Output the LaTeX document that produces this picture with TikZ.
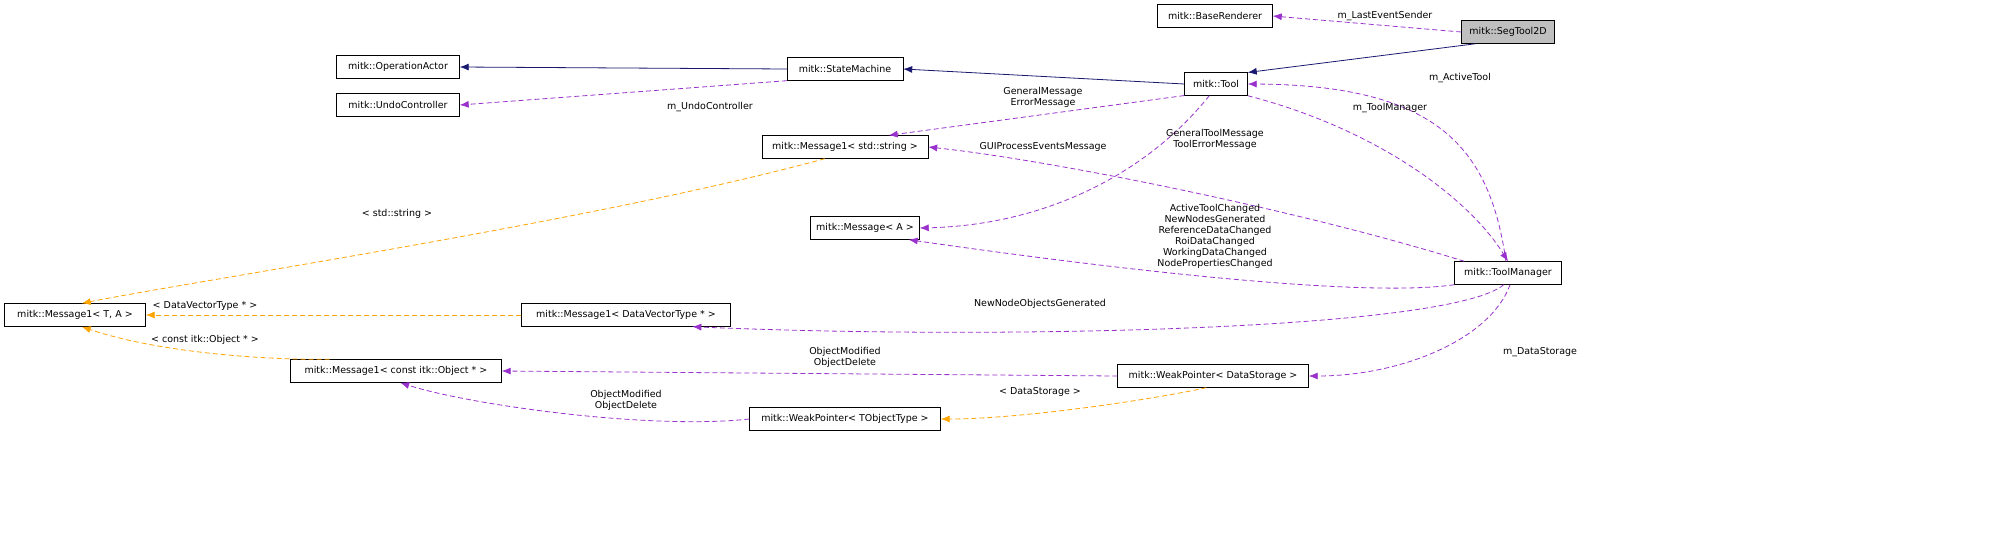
\documentclass[tikz,border=0pt]{standalone}
\usepackage{fontspec}
\setmainfont{DejaVu Sans}
\usetikzlibrary{arrows.meta}
\definecolor{inh}{RGB}{25,25,112}
\definecolor{use}{RGB}{153,50,204}
\definecolor{tmpl}{RGB}{255,165,0}
\tikzset{
  cls/.style={draw=black, fill=white, font=\fontsize{9.5}{11}\selectfont, inner xsep=4pt, minimum height=23pt, anchor=center},
  lbl/.style={font=\fontsize{9.5}{11}\selectfont, align=center, inner sep=1pt},
  inhe/.style={-{Latex[length=9pt,width=7pt]}, draw=inh, thick},
  usee/.style={-{Latex[length=9pt,width=7pt,fill=use]}, draw=use, dash pattern=on 5pt off 3pt, thick},
  tple/.style={-{Latex[length=9pt,width=7pt,fill=tmpl]}, draw=tmpl, dash pattern=on 5pt off 3pt, thick},
}
\begin{document}
\begin{tikzpicture}[x=1pt,y=-1pt]
\useasboundingbox[fill=white] (0,0) rectangle (1992,552);
\node[cls, minimum width=115pt] (br) at (1215,16) {mitk::BaseRenderer};
\node[cls, minimum width=93pt, fill=black!25] (seg) at (1508,32) {mitk::SegTool2D};
\node[cls, minimum width=123pt] (opa) at (398,67) {mitk::OperationActor};
\node[cls, minimum width=116pt] (sm) at (845,69) {mitk::StateMachine};
\node[cls, minimum width=123pt] (undo) at (398,105) {mitk::UndoController};
\node[cls, minimum width=63pt] (tool) at (1216,84) {mitk::Tool};
\node[cls, minimum width=166pt] (msgs) at (845,147) {mitk::Message1< std::string >};
\node[cls, minimum width=109pt] (msga) at (865,228) {mitk::Message< A >};
\node[cls, minimum width=107pt] (tm) at (1508,273) {mitk::ToolManager};
\node[cls, minimum width=141pt] (ta) at (75,315) {mitk::Message1< T, A >};
\node[cls, minimum width=209pt] (dv) at (626,315) {mitk::Message1< DataVectorType * >};
\node[cls, minimum width=211pt] (itk) at (396,371) {mitk::Message1< const itk::Object * >};
\node[cls, minimum width=191pt] (wpds) at (1213,376) {mitk::WeakPointer< DataStorage >};
\node[cls, minimum width=191pt] (wpto) at (845,419) {mitk::WeakPointer< TObjectType >};

\draw[usee] (seg.west) -- (br.east);
\node[lbl] at (1385,16) {m\_LastEventSender};
\draw[inhe] (seg.200) -- (tool.20);
\draw[inhe] (tool.west) -- (sm.east);
\draw[inhe] (sm.west) -- (opa.east);
\draw[usee] (sm.south west) -- (undo.east);
\node[lbl] at (710,107) {m\_UndoController};
\draw[usee] (tool.200) -- (msgs.15);
\node[lbl] at (1043,97) {GeneralMessage\\ErrorMessage};
\draw[usee] (tool.240) .. controls (1150,170) and (1050,225) .. (msga.east);
\node[lbl] at (1043,147) {GUIProcessEventsMessage};
\draw[usee] (tm.100) .. controls (1490,150) and (1440,85) .. (tool.east);
\node[lbl] at (1460,78) {m\_ActiveTool};
\draw[usee] (tool.south east) .. controls (1380,130) and (1470,200) .. (tm.north);
\node[lbl] at (1390,108) {m\_ToolManager};
\draw[usee] (tm.165) .. controls (1300,210) and (1050,160) .. (msgs.east);
\node[lbl] at (1215,139) {GeneralToolMessage\\ToolErrorMessage};
\draw[usee] (tm.south west) .. controls (1350,300) and (1050,260) .. (msga.-15);
\node[lbl] at (1215,236) {ActiveToolChanged\\NewNodesGenerated\\ReferenceDataChanged\\RoiDataChanged\\WorkingDataChanged\\NodePropertiesChanged};
\draw[usee] (tm.-110) .. controls (1450,330) and (1000,340) .. (dv.-10);
\node[lbl] at (1040,304) {NewNodeObjectsGenerated};
\draw[usee] (tm.-80) .. controls (1490,340) and (1400,376) .. (wpds.east);
\node[lbl] at (1540,352) {m\_DataStorage};
\draw[usee] (wpds.west) -- (itk.east);
\node[lbl] at (845,357) {ObjectModified\\ObjectDelete};
\draw[usee] (wpto.west) .. controls (650,430) and (470,405) .. (itk.-70);
\node[lbl] at (626,400) {ObjectModified\\ObjectDelete};
\draw[tple] (wpds.-120) .. controls (1150,400) and (1020,419) .. (wpto.east);
\node[lbl] at (1040,392) {< DataStorage >};
\draw[tple] (msgs.-150) .. controls (600,220) and (200,280) .. (ta.60);
\node[lbl] at (397,214) {< std::string >};
\draw[tple] (dv.west) -- (ta.east);
\node[lbl] at (205,306) {< DataVectorType * >};
\draw[tple] (itk.170) .. controls (250,360) and (150,350) .. (ta.-60);
\node[lbl] at (205,340) {< const itk::Object * >};
\end{tikzpicture}
\end{document}
